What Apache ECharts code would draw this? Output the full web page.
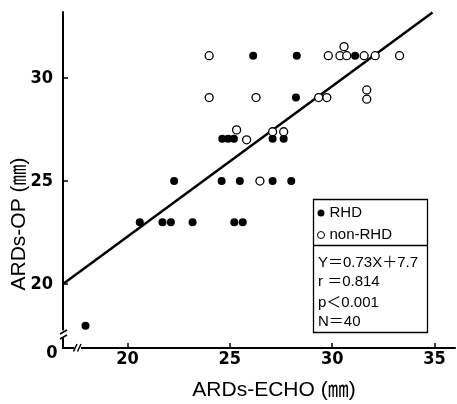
<!DOCTYPE html>
<html>
<head>
<meta charset="utf-8">
<script src="https://cdn.jsdelivr.net/npm/echarts@6/dist/echarts.min.js"></script>
<style>
  html, body { margin: 0; padding: 0; background: #fff; }
  #chart { width: 457px; height: 404px; }
</style>
</head>
<body>
<div id="chart"></div>
<script>
// RHD patients (filled markers)
const rhdEcho = [26.14, 28.27, 31.12, 28.23, 24.63, 24.92, 25.20, 27.09, 27.63,
                 22.28, 24.60, 25.49, 27.09, 28.00,
                 20.60, 21.71, 22.12, 23.18, 25.22, 25.63, 17.95];
const rhdOp   = [31.08, 31.08, 31.08, 29.05, 27.05, 27.05, 27.05, 27.05, 27.05,
                 25.00, 25.00, 25.00, 25.00, 25.00,
                 23.00, 23.00, 23.00, 23.00, 23.00, 23.00, 17.98];

// non-RHD patients (open markers)
const nonEcho = [23.99, 29.81, 30.38, 30.71, 31.56, 32.10, 33.29, 30.58,
                 23.99, 26.28, 29.34, 29.74, 31.69, 31.69,
                 25.33, 25.82, 27.09, 27.63, 26.47];
const nonOp   = [31.08, 31.08, 31.08, 31.08, 31.08, 31.08, 31.08, 31.52,
                 29.05, 29.05, 29.05, 29.05, 29.42, 28.97,
                 27.48, 27.00, 27.39, 27.39, 25.00];

// regression Y = 0.73X + 7.7, drawn over this X range
const slope = 0.73;
const intercept = 7.7;
const fitRange = [16.9, 34.9];

const xTicks = [20, 25, 30, 35];
const yTicks = [20, 25, 30];

const statLines = ['Y＝0.73X＋7.7', 'r ＝0.814', 'p＜0.001', 'N＝40'];

const zip = (a, b) => a.map((v, i) => [v, b[i]]);
const fitData = fitRange.map(x => [x, slope * x + intercept]);

const numFont = "'Liberation Sans Narrow', 'DejaVu Sans Condensed', sans-serif";
const txtFont = "'Liberation Sans', 'Noto Sans CJK JP', sans-serif";

const chart = echarts.init(document.getElementById('chart'), null, { renderer: 'canvas' });

const axisCommon = {
  type: 'value',
  splitLine: { show: false },
  axisLine: { onZero: false, lineStyle: { color: '#000', width: 2 } },
  axisTick: { show: true, inside: true, length: 5, lineStyle: { color: '#000', width: 1.5 } }
};

chart.setOption({
  animation: false,
  backgroundColor: '#fff',
  grid: { left: 63, top: 12, width: 392, height: 336, containLabel: false },
  xAxis: Object.assign({}, axisCommon, {
    min: 16.85, max: 36,
    axisTick: Object.assign({}, axisCommon.axisTick, { customValues: xTicks }),
    axisLabel: { customValues: xTicks, margin: 2, color: '#000', fontSize: 18, fontWeight: 'bold', fontFamily: numFont }
  }),
  yAxis: Object.assign({}, axisCommon, {
    min: 16.9, max: 33.2,
    axisTick: Object.assign({}, axisCommon.axisTick, { customValues: yTicks }),
    axisLabel: { customValues: yTicks, margin: 10, color: '#000', fontSize: 18, fontWeight: 'bold', fontFamily: numFont, padding: [6, 0, 0, 0] }
  }),
  legend: {
    orient: 'vertical', left: 317, top: 205, padding: 0, itemGap: 6,
    itemWidth: 7, itemHeight: 7,
    textStyle: { color: '#000', fontSize: 15, fontFamily: txtFont, lineHeight: 16 },
    data: [
      { name: 'RHD', icon: 'circle' },
      { name: 'non-RHD', icon: 'circle', itemStyle: { borderWidth: 1 } }
    ]
  },
  series: [
    {
      name: 'fit', type: 'line', data: fitData, symbol: 'none', silent: true,
      lineStyle: { color: '#000', width: 2.5 }, z: 1
    },
    {
      name: 'RHD', type: 'scatter', data: zip(rhdEcho, rhdOp), symbol: 'circle', symbolSize: 8,
      itemStyle: { color: '#000', opacity: 1 }, z: 3
    },
    {
      name: 'non-RHD', type: 'scatter', data: zip(nonEcho, nonOp), symbol: 'circle', symbolSize: 8,
      itemStyle: { color: '#fff', borderColor: '#000', borderWidth: 1.3, opacity: 1 }, z: 4
    }
  ]
});

// axis breaks, statistics box, axis titles
const origin = chart.convertToPixel({ gridIndex: 0 }, [16.85, 16.9]);
const ox = origin[0], oy = origin[1];
const stroke = { stroke: '#000', lineWidth: 1.5 };

const graphics = [
  // gap in the y axis
  { type: 'rect', shape: { x: ox - 6, y: oy - 17.5, width: 12, height: 7.5 }, style: { fill: '#fff' }, z: 50 },
  { type: 'line', shape: { x1: ox - 3, y1: oy - 14, x2: ox + 4, y2: oy - 18 }, style: stroke, z: 51 },
  { type: 'line', shape: { x1: ox - 3, y1: oy - 9, x2: ox + 4, y2: oy - 13 }, style: stroke, z: 51 },
  // gap in the x axis
  { type: 'rect', shape: { x: ox + 11.5, y: oy - 4, width: 6.5, height: 8 }, style: { fill: '#fff' }, z: 50 },
  { type: 'line', shape: { x1: ox + 10.5, y1: oy + 3.5, x2: ox + 14, y2: oy - 4 }, style: stroke, z: 51 },
  { type: 'line', shape: { x1: ox + 14.5, y1: oy + 3.5, x2: ox + 18, y2: oy - 4 }, style: stroke, z: 51 },
  // origin label
  { type: 'text', x: ox - 11, y: oy + 5, style: { text: '0', fill: '#000', font: 'bold 18px ' + numFont, align: 'center', verticalAlign: 'middle' }, z: 52 },
  // statistics box
  { type: 'rect', shape: { x: 313.5, y: 199.5, width: 114, height: 133 }, style: { fill: 'none', stroke: '#000', lineWidth: 1.3 }, z: 40 },
  { type: 'line', shape: { x1: 313.5, y1: 245.5, x2: 427.5, y2: 245.5 }, style: { stroke: '#000', lineWidth: 1.3 }, z: 40 },
  // axis titles
  { type: 'text', x: 274, y: 390, style: { text: 'ARDs-ECHO (㎜)', fill: '#000', font: '21px ' + txtFont, align: 'center', verticalAlign: 'middle' } },
  { type: 'text', x: 19.5, y: 224, rotation: Math.PI / 2, style: { text: 'ARDs-OP (㎜)', fill: '#000', font: '21px ' + txtFont, align: 'center', verticalAlign: 'middle' } }
];

const statY = [262.7, 282.3, 303, 321.7];
statLines.forEach((t, i) => {
  graphics.push({
    type: 'text', x: 318, y: statY[i],
    style: { text: t, fill: '#000', font: '15px ' + txtFont, align: 'left', verticalAlign: 'middle', letterSpacing: 1 },
    z: 41
  });
});

chart.setOption({ graphic: graphics });
</script>
</body>
</html>
